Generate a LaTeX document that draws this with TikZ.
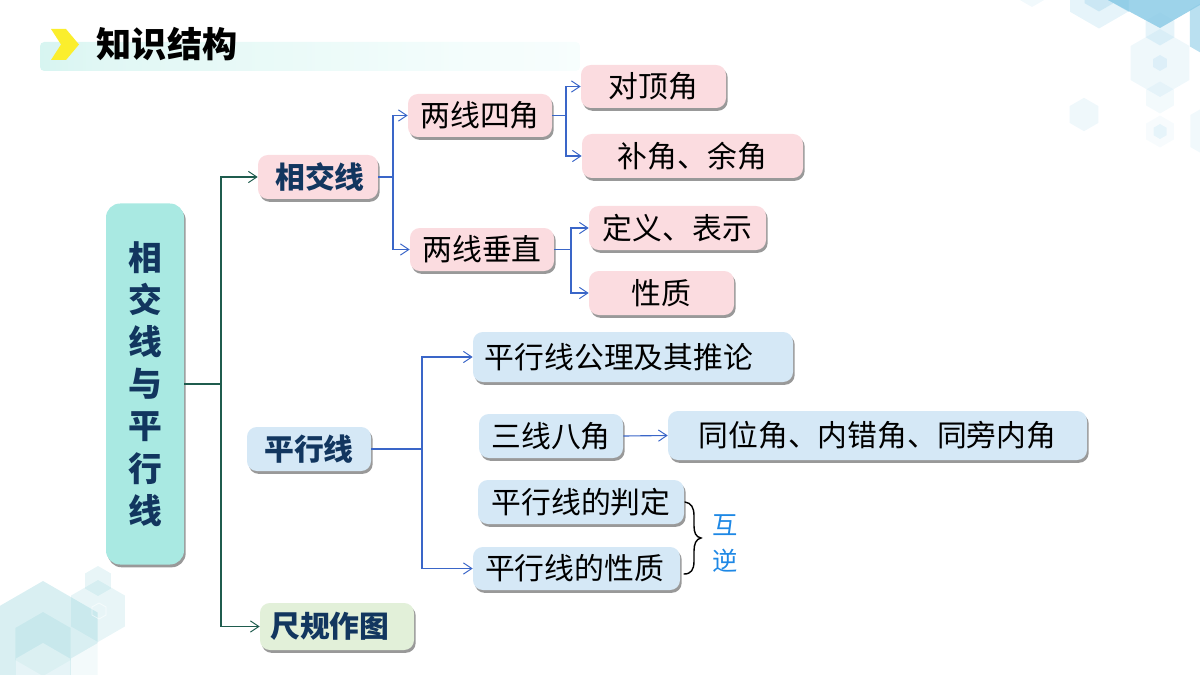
\documentclass[tikz,border=0pt]{standalone}
\usepackage{fontspec}
\setmainfont{Noto Sans CJK SC}
\usetikzlibrary{arrows.meta,shadows}
\definecolor{pinkbox}{HTML}{FBDCE0}
\definecolor{bluebox}{HTML}{D5E8F6}
\definecolor{tealbox}{HTML}{A9E9E2}
\definecolor{greenbox}{HTML}{E2F0D9}
\definecolor{navytext}{HTML}{12365F}
\definecolor{greenline}{HTML}{1F5C4E}
\definecolor{blueline}{HTML}{3A66C8}
\definecolor{handblue}{HTML}{1E88E5}
\definecolor{hexblue}{HTML}{8CCBE6}
\definecolor{hexteal}{HTML}{8CCFD8}
\definecolor{chevron}{HTML}{FBEE2D}
\definecolor{fadeA}{HTML}{E0F7F4}
\definecolor{fadeB}{HTML}{F4FDFC}
\pgfdeclarehorizontalshading{barfade}{100bp}{color(0bp)=(tealbox); color(30bp)=(fadeA); color(65bp)=(fadeB); color(100bp)=(white)}
\newcommand{\hexa}[5]{\fill[#4,opacity=#5] (#1,#2) +(90:#3) -- +(30:#3) -- +(-30:#3) -- +(-90:#3) -- +(-150:#3) -- +(150:#3) -- cycle;}
\tikzset{
  card/.style={rounded corners=7pt,inner sep=0pt,align=center,text=black,
    font=\fontsize{21.2}{25}\selectfont,
    drop shadow={shadow xshift=1.2pt,shadow yshift=-2pt,fill=black,opacity=.4}},
  wh/.style 2 args={minimum width=#1*0.025cm,minimum height=#2*0.025cm},
  pinkcard/.style={card,fill=pinkbox},
  bluecard/.style={card,fill=bluebox},
  headtext/.style={font=\fontsize{21.2}{25}\selectfont\bfseries,text=navytext},
  glink/.style={draw=greenline,line width=.8pt},
  blink/.style={draw=blueline,line width=.8pt},
  tip/.style={-{Straight Barb[length=6pt,width=8pt,line width=.7pt]}},
}
\begin{document}
\begin{tikzpicture}[x=0.025cm,y=-0.025cm]
\useasboundingbox (0,0) rectangle (1200,675);
\begin{scope}
\clip (0,0) rectangle (1200,675);
% top right decoration
\hexa{1099}{-5}{33.5}{hexblue}{.22}
\hexa{1099}{-5}{16.5}{hexblue}{.3}
\hexa{1032}{-10}{17}{hexblue}{.12}
\hexa{1160}{29}{16.5}{hexblue}{.22}
\hexa{1160}{63}{34}{hexblue}{.14}
\hexa{1160}{63}{8}{hexblue}{.18}
\hexa{1160}{97.5}{16}{hexblue}{.1}
\hexa{1084}{114.5}{16.7}{hexblue}{.14}
\hexa{1160}{131.5}{16}{hexblue}{.07}
\hexa{1160}{131.5}{7.5}{hexblue}{.16}
\hexa{1218}{131}{32}{hexblue}{.12}
\hexa{1222}{28}{37}{hexblue}{.6}
\fill[hexblue,opacity=.85] (1108,0) -- (1160,28) -- (1200,5) -- (1200,0) -- cycle;
\fill[hexblue,opacity=.5] (1108,0) -- (1129,12) -- (1129,0) -- cycle;
% bottom left decoration
\hexa{98}{581}{15}{hexteal}{.2}
\hexa{43}{644}{63}{hexteal}{.33}
\hexa{98}{611}{31}{hexteal}{.2}
\hexa{43}{644}{32}{hexteal}{.22}
\hexa{43}{674}{31}{white}{.35}
\hexa{98}{674}{31}{white}{.7}
\draw[white,opacity=.6,line width=.5pt] (99,603) -- (106,607) -- (106,615) -- (99,619) -- (92,615) -- (92,607) -- cycle;
\end{scope}
% title
\shade[shading=barfade,rounded corners=3pt] (40,42) rectangle (580,71);
\fill[chevron] (51,29) -- (66,29) -- (79,44.5) -- (66,60) -- (51,60) -- (61,44.5) -- cycle;
\node[font=\fontsize{25}{30}\selectfont\bfseries,text=black,inner sep=0pt] (title) at (167,44) {知识结构};
% boxes
\node[card,fill=tealbox,wh={78}{361},rounded corners=10pt,text=navytext,font=\fontsize{24}{30}\selectfont\bfseries] (main) at (145,384) {相\\交\\线\\与\\平\\行\\线};
\node[pinkcard,wh={120}{44},headtext] (xjx) at (318,177) {\kern2.8pt 相交线};
\node[pinkcard,wh={144}{43}] (lxsj) at (480,115.5) {两线四角};
\node[pinkcard,wh={145}{43}] (dd) at (653.5,86.5) {对顶角};
\node[pinkcard,wh={221}{44}] (bj) at (692.5,156) {补角、余角};
\node[pinkcard,wh={144}{43}] (lxcz) at (482,249.5) {两线垂直};
\node[pinkcard,wh={177}{44}] (dy) at (677.5,228) {定义、表示};
\node[pinkcard,wh={145}{44}] (xz) at (661.5,293) {性质};
\node[bluecard,wh={124}{44},headtext] (pxx) at (309,449) {平行线};
\node[bluecard,wh={320}{50}] (gl) at (633,357) {平行线公理及其推论\kern20pt};
\node[bluecard,wh={144}{44}] (sx) at (551,436) {三线八角};
\node[bluecard,wh={419}{49}] (tw) at (877.5,435.5) {同位角、内错角、同旁内角};
\node[bluecard,wh={206}{44}] (pd) at (581,502) {平行线的判定};
\node[bluecard,wh={207}{43}] (xzp) at (576.5,568.5) {平行线的性质\kern2.8pt};
\node[card,fill=greenbox,wh={154}{47},headtext] (cg) at (337,626.5) {尺规作图\kern10pt};
% junctions
\coordinate (j1) at (221,383);
\coordinate (j2) at (393,177);
\coordinate (j3) at (566,115);
\coordinate (j4) at (571,249);
\coordinate (j5) at (422,448);
% connectors
\draw[glink] (main.east) -- (j1 |- main.east);
\draw[glink,tip] (j1 |- main.east) |- (xjx.west);
\draw[glink,tip] (j1 |- main.east) |- (cg.west);
\draw[blink] (xjx.east) -- (j2 |- xjx.east);
\draw[blink,tip] (j2 |- xjx.east) |- (lxsj.west);
\draw[blink,tip] (j2 |- xjx.east) |- (lxcz.west);
\draw[blink] (lxsj.east) -- (j3 |- lxsj.east);
\draw[blink,tip] (j3 |- lxsj.east) |- (dd.west);
\draw[blink,tip] (j3 |- lxsj.east) |- (bj.west);
\draw[blink] (lxcz.east) -- (j4 |- lxcz.east);
\draw[blink,tip] (j4 |- lxcz.east) |- (dy.west);
\draw[blink,tip] (j4 |- lxcz.east) |- (xz.west);
\draw[blink] (pxx.east) -- (j5 |- pxx.east);
\draw[blink,tip] (j5 |- pxx.east) |- (gl.west);
\draw[blink,tip] (j5 |- pxx.east) |- (xzp.west);
\draw[blink,tip] (sx.east) -- (tw.west);
% brace
\coordinate (bt) at (685,502);
\coordinate (bm) at (701,538);
\coordinate (bb) at (684,574);
\draw[black,line width=1pt,line cap=round] (bt) .. controls (691,503) and (694,507) .. (694,516) -- (694,526) .. controls (694,533) and (696,537) .. (bm) .. controls (696,539) and (694,544) .. (694,551) -- (694,561) .. controls (694,570) and (691,574) .. (bb);
\node[text=handblue,font=\fontsize{18}{20}\selectfont,inner sep=0pt] (hu) at (725,525) {互};
\node[text=handblue,font=\fontsize{18}{20}\selectfont,inner sep=0pt] (ni) at (725,561) {逆};
\end{tikzpicture}
\end{document}
